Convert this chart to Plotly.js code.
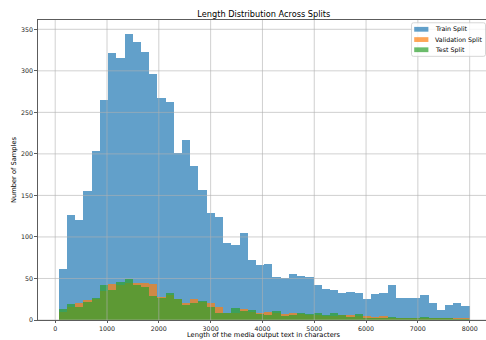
<!DOCTYPE html>
<html>
<head>
<meta charset="utf-8">
<script src="https://cdn.plot.ly/plotly-3.0.1.min.js"></script>
<style>html,body{margin:0;padding:0;background:#fff;}#chart{width:486px;height:340px;}</style>
</head>
<body>
<div id="chart"></div>
<script>
// Histogram bin range (characters) and bin count
const binStart = 69;
const binEnd = 8000;
const binCount = 50;

// Counts per bin
const trainCounts = [62,127,121,155,203,265,321,315,344,335,323,296,267,263,201,217,186,157,129,124,93,90,105,72,66,68,52,51,55,53,52,42,37,36,33,34,33,25,31,32,42,27,26,26,30,21,12,18,20,17];
const valCounts = [10,16,21,24,25,35,43,42,45,45,44,43,28,30,25,21,25,22,20,16,9,8,13,10,9,10,9,7,8,7,6,6,5,5,6,6,5,5,4,5,3,2,3,3,2,3,2,2,2,2];
const testCounts = [13,19,16,22,27,42,36,46,49,42,40,29,26,33,25,18,20,23,16,9,8,14,11,12,7,6,11,5,6,8,7,8,6,8,6,4,7,3,3,3,4,3,2,3,4,2,3,2,1,1];

const seriesNames = ["Train Split", "Validation Split", "Test Split"];
const xTicks = [0,1000,2000,3000,4000,5000,6000,7000,8000];
const yTicks = [0,50,100,150,200,250,300,350];
const xTitle = "Length of the media output text in characters";
const yTitle = "Number of Samples";
const chartTitle = "Length Distribution Across Splits";

const binWidth = (binEnd - binStart) / binCount;
const colors = ["#1f77b4", "#ff7f0e", "#2ca02c"];
const allCounts = [trainCounts, valCounts, testCounts];

const traces = allCounts.map((c, i) => ({
  type: "bar",
  y: c,
  x0: binStart + binWidth / 2,
  dx: binWidth,
  width: binWidth,
  name: seriesNames[i],
  marker: {color: colors[i], opacity: 0.7, line: {width: 0}},
  hoverinfo: "skip",
  showlegend: false
}));

// plot area in pixels
const W = 486, H = 340, L = 38, R = 0, T = 20, B = 19.5;
const pw = W - L - R, ph = H - T - B;
const px = p => (p - L) / pw;          // pixel x -> paper x
const py = p => (H - B - p) / ph;      // pixel y -> paper y

const gridColor = "rgba(176,176,176,0.6)";
const shapes = [];
xTicks.forEach(v => shapes.push({type: "line", xref: "x", yref: "paper", x0: v, x1: v, y0: 0, y1: 1, line: {color: gridColor, width: 1}, layer: "above"}));
yTicks.forEach(v => shapes.push({type: "line", xref: "paper", yref: "y", x0: 0, x1: 1, y0: v, y1: v, line: {color: gridColor, width: 1}, layer: "above"}));

// custom legend (matplotlib-like box)
const font = "DejaVu Sans, sans-serif";
const lg = {x0: 411.5, x1: 485.5, y0: 22.8, y1: 56.4, r: 2};
function roundRect(b) {
  const rx = b.r / pw, ry = b.r / ph;
  const X0 = px(b.x0), X1 = px(b.x1), Yt = py(b.y0), Yb = py(b.y1);
  return `M${X0 + rx},${Yt} L${X1 - rx},${Yt} Q${X1},${Yt} ${X1},${Yt - ry} L${X1},${Yb + ry} Q${X1},${Yb} ${X1 - rx},${Yb} L${X0 + rx},${Yb} Q${X0},${Yb} ${X0},${Yb + ry} L${X0},${Yt - ry} Q${X0},${Yt} ${X0 + rx},${Yt} Z`;
}
shapes.push({type: "path", xref: "paper", yref: "paper", path: roundRect(lg), fillcolor: "rgba(255,255,255,0.8)", line: {color: "#cccccc", width: 0.8}, layer: "above"});
const rowY = [29.3, 39.6, 49.8];
const annotations = [];
seriesNames.forEach((n, i) => {
  shapes.push({type: "rect", xref: "paper", yref: "paper", x0: px(414.2), x1: px(428.4), y0: py(rowY[i] + 2.4), y1: py(rowY[i] - 2.4), fillcolor: colors[i], opacity: 0.7, line: {width: 0}, layer: "above"});
  annotations.push({xref: "paper", yref: "paper", x: px(432.5), y: py(rowY[i]), xanchor: "left", yanchor: "middle", text: n, showarrow: false, font: {family: font, size: 6.3, color: "#000"}});
});
// x-axis title, placed like matplotlib's xlabel
annotations.push({xref: "paper", yref: "paper", x: px(264), y: py(340.6), xanchor: "center", yanchor: "bottom", text: xTitle, showarrow: false, borderpad: 0, font: {family: font, size: 6.7, color: "#000"}});

const layout = {
  width: W, height: H,
  margin: {l: L, r: R, t: T, b: B, pad: 0},
  paper_bgcolor: "#fff", plot_bgcolor: "#fff",
  barmode: "overlay", bargap: 0,
  font: {family: font, size: 7, color: "#000"},
  title: {text: chartTitle, font: {family: font, size: 8.2, color: "#000"}, x: 0.504, xref: "paper", xanchor: "center", y: 1 - 14/340, yanchor: "middle"},
  xaxis: {
    range: [-332, 8315], tickvals: xTicks, ticktext: xTicks.map(String),
    showgrid: false, zeroline: false, showline: true, mirror: true, linecolor: "#333", linewidth: 0.8,
    ticks: "outside", ticklen: 2.5, tickwidth: 0.8, tickcolor: "#333",
    tickfont: {family: font, size: 6.3, color: "#222"},
    automargin: false
  },
  yaxis: {
    range: [0, 361.2], tickvals: yTicks, ticktext: yTicks.map(String),
    showgrid: false, zeroline: false, showline: true, linecolor: "#333", linewidth: 0.8,
    ticks: "outside", ticklen: 3, tickwidth: 0.8, tickcolor: "#333",
    tickfont: {family: font, size: 6.3, color: "#222"},
    title: {text: yTitle, font: {family: font, size: 6.7, color: "#000"}, standoff: 3},
    automargin: false
  },
  shapes: shapes,
  annotations: annotations,
  showlegend: false
};

Plotly.newPlot("chart", traces, layout, {staticPlot: true, displayModeBar: false});
</script>
</body>
</html>
